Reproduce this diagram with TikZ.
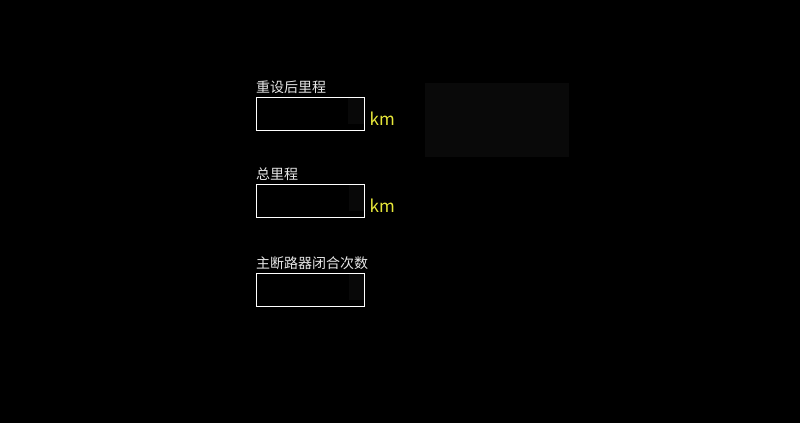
\documentclass[tikz,border=0pt]{standalone}
\usepackage{fontspec}
\setmainfont{Noto Sans CJK SC}
\usetikzlibrary{positioning}
\definecolor{unityellow}{HTML}{E8E83A}
\definecolor{labelgray}{HTML}{E6E6E6}
\definecolor{paneldark}{HTML}{090909}
\definecolor{spindark}{HTML}{080808}

\begin{document}
\begin{tikzpicture}[x=1pt, y=-1pt,
 fieldlabel/.style={anchor=base west, inner sep=0, text=labelgray, font=\fontsize{14}{14}\selectfont},
 fieldbox/.style={rectangle, draw=white, line width=1pt, minimum width=108pt, minimum height=33pt, inner sep=0, anchor=north west},
 unit/.style={inner sep=0, text=unityellow, font=\fontsize{17}{17}\selectfont}]
 \useasboundingbox (0,0) rectangle (800,423);
 \fill[black] (0,0) rectangle (800,423);

 % empty panel on the right
 \node[rectangle, fill=paneldark, minimum width=144pt, minimum height=74pt, inner sep=0, anchor=north west] (panel) at (425,83) {};

 % first field
 \node[fieldlabel] (labA) at (256,92.5) {重设后里程};
 \node[fieldbox] (boxA) at (256,97) {};
 \fill[spindark] ([xshift=-17pt,yshift=-1pt]boxA.north east) rectangle ([xshift=-1pt,yshift=7pt]boxA.south east);
 \node[unit, right=4.5pt of boxA, yshift=-5pt] (kmA) {km};

 % second field
 \node[fieldlabel] (labB) at (256,179) {总里程};
 \node[fieldbox] (boxB) at (256,184) {};
 \fill[spindark] ([xshift=-16pt,yshift=-1pt]boxB.north east) rectangle ([xshift=-1pt,yshift=7pt]boxB.south east);
 \node[unit, right=4.5pt of boxB, yshift=-5pt] (kmB) {km};

 % third field
 \node[fieldlabel] (labC) at (256,268.5) {主断路器闭合次数};
 \node[fieldbox] (boxC) at (256,273) {};
 \fill[spindark] ([xshift=-16pt,yshift=-1pt]boxC.north east) rectangle ([xshift=-1pt,yshift=7pt]boxC.south east);
\end{tikzpicture}
\end{document}
